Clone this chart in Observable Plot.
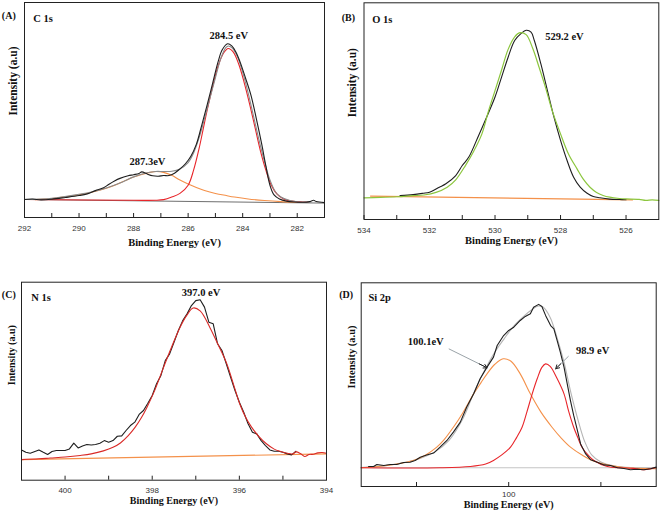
<!DOCTYPE html>
<html>
<head>
<meta charset="utf-8">
<script src="https://cdn.jsdelivr.net/npm/d3@7"></script>
<script src="https://cdn.jsdelivr.net/npm/@observablehq/plot@0.6"></script>
<style>
  body { margin: 0; background: #fff; }
  #wrap { position: relative; width: 661px; height: 513px; overflow: hidden; background: #fff; }
  #wrap svg { position: absolute; overflow: visible; }
</style>
</head>
<body>
<div id="wrap"></div>
<script>
// ---------- Panel A: C 1s ----------
const cBlack = [[292,8.4],[291.7,8.6],[291.4,8.2],[291,8.5],[290.5,9.3],[290,10.2],[289.7,11],[289.4,12.5],[289.1,13.8],[288.9,15.5],[288.7,17],[288.5,18.2],[288.2,19.4],[288,19.9],[287.8,20.5],[287.7,21.2],[287.5,20.2],[287.3,19.4],[287.1,19.2],[286.9,19.5],[286.7,19.5],[286.5,20.6],[286.3,22.6],[286.1,25],[285.9,28.5],[285.7,34],[285.5,43],[285.3,52.5],[285.1,62.5],[284.9,72.5],[284.75,78],[284.55,80.8],[284.4,79.8],[284.25,77],[284.1,72.5],[283.9,65],[283.7,57],[283.5,46],[283.3,34],[283.15,24],[283.0,15],[282.85,10.5],[282.65,8.6],[282.4,7.6],[282.1,7.2],[281.8,7.1],[281.55,7.4],[281.4,8.0],[281.3,7.4],[281.0,6.9]];
const cEnvelope = [[292,8.4],[291,8.9],[290,10.8],[289.5,12],[289,13.7],[288.5,16],[288,18.9],[287.5,20.8],[287.2,21.4],[286.9,21.4],[286.6,21.5],[286.3,22.6],[286.0,25.5],[285.8,30],[285.6,37],[285.4,46],[285.2,55.5],[285.0,65],[284.8,74],[284.62,79],[284.52,79.8],[284.4,79],[284.2,75],[284.0,67.5],[283.8,58],[283.6,47],[283.4,36],[283.2,26],[283.0,17.5],[282.8,12],[282.6,9.5],[282.3,8],[282,7.3],[281.5,7.1]];
const cRed = [[292,8.4],[288,8.0],[287.2,8.0],[286.9,8.3],[286.6,9.5],[286.3,11.2],[286.0,15],[285.8,22],[285.6,32],[285.45,41],[285.3,50],[285.1,61],[284.9,70.5],[284.7,76.5],[284.53,78.6],[284.35,77],[284.15,71.5],[283.95,63],[283.75,53],[283.55,42],[283.35,31],[283.15,22],[282.95,15],[282.75,11],[282.5,8.6],[282.2,7.6],[281.8,7.2],[281.6,7.1]];
const cOrange = [[291.6,8.3],[291,8.8],[290.5,9.6],[290,10.6],[289.5,11.9],[289,13.6],[288.6,15.5],[288.3,17.2],[288,18.8],[287.7,20],[287.4,21.0],[287.15,21.4],[286.9,21],[286.6,19.6],[286.3,17.4],[286,15.6],[285.7,14],[285.4,12.6],[285,11.2],[284.6,10.2],[284.3,9.5],[283.8,8.6],[283.2,7.9],[282.6,7.4],[282,7.1]];
const cBaseline = [[292,8.4],[281,6.7]];
const cTicks = [292,291,290,289,288,287,286,285,284,283,282];
const cTickLabels = [292,290,288,286,284,282];
const cNotes = [{e:284.51, v:84.8, label:"284.5 eV"},{e:287.49, v:25.9, label:"287.3eV"}];

// ---------- Panel B: O 1s ----------
const oBlack = [[532.9,11.1],[532.5,11.5],[532.2,12.1],[532,12.6],[531.7,14.9],[531.5,16.5],[531.2,20.3],[531,24.9],[530.8,28.8],[530.5,38.8],[530.3,45.7],[530,56.5],[529.8,65.7],[529.6,74.9],[529.4,82.6],[529.2,85.9],[529.05,87.3],[528.9,86.5],[528.8,82.6],[528.6,71.8],[528.4,59.5],[528.2,47.2],[528,36.5],[527.8,27.2],[527.6,19.5],[527.4,14.9],[527.2,12.2],[527,10.6],[526.8,10],[526.5,9.4],[526.2,9.2],[526,9.1]];
const oGreen = [[534,10],[533.5,10.2],[533,10.5],[532.5,11],[532.17,11.3],[531.8,12.5],[531.46,14.9],[531.2,18.3],[530.9,25],[530.65,31.5],[530.4,39.5],[530.2,50],[530.0,59.5],[529.8,69],[529.6,78.5],[529.4,84.3],[529.24,86.2],[529.05,85.3],[528.85,79],[528.65,70],[528.46,61],[528.25,50],[528.0,39.5],[527.75,30],[527.5,23.5],[527.3,18.5],[527.1,14.9],[526.9,12.5],[526.7,11.1],[526.5,10.3],[526.2,9.7],[526,9.5],[525.6,9.3],[525.4,8.8],[525.2,9.1],[525,8.8]];
const oBaseline = [[533.8,10.8],[525.8,9.1]];
const oTicks = [534,533,532,531,530,529,528,527,526];
const oTickLabels = [534,532,530,528,526];
const oNotes = [{e:527.88, v:84.2, label:"529.2 eV"}];

// ---------- Panel C: N 1s ----------
const nBlack = [[401,15.3],[400.9,14.1],[400.8,13.6],[400.6,15.3],[400.5,14.1],[400.4,13.0],[400.3,14.5],[400.2,15.0],[400,15.0],[399.9,15.8],[399.8,18.7],[399.7,16.3],[399.6,17.3],[399.5,18.0],[399.4,17.8],[399.3,18.0],[399.2,18.7],[399.1,20.0],[399,19.2],[398.9,20.0],[398.8,22.2],[398.7,22.4],[398.6,25.1],[398.5,27.6],[398.4,29.3],[398.3,33.2],[398.2,35.2],[398.1,38.9],[398,42.8],[397.9,48.7],[397.8,52.9],[397.7,60.4],[397.6,63.8],[397.5,69.7],[397.4,75.6],[397.3,80.6],[397.2,84.0],[397.1,88.2],[397,90.7],[396.9,91.1],[396.8,87.4],[396.7,79.8],[396.6,79.0],[396.5,68.9],[396.4,65.5],[396.3,58.8],[396.2,52.0],[396.1,45.3],[396,39.4],[395.9,34.3],[395.8,28.5],[395.7,24.2],[395.6,23.4],[395.5,20.0],[395.4,17.5],[395.3,15.3],[395.2,14.6],[395.1,14.6],[395,14.1],[394.9,13.3],[394.8,12.8],[394.7,14.6]];
const nRed = [[401,10.4],[400.6,10.8],[400.34,11.2],[400,11.7],[399.65,12.5],[399.4,13.3],[399.12,14.8],[398.9,16.6],[398.73,18.8],[398.55,22.5],[398.39,26.8],[398.25,31.5],[398.12,36.9],[397.95,45],[397.74,57],[397.55,67.5],[397.36,77.3],[397.2,83.5],[397.06,87],[396.9,85.5],[396.68,77.3],[396.5,69],[396.3,59.5],[396.1,46],[395.99,38.5],[395.85,31.5],[395.72,26.8],[395.55,22],[395.38,18.4],[395.2,15.7],[395.07,14.6],[394.9,13.6],[394.77,13.3],[394.7,14.3],[394.6,13.5],[394.5,12.0],[394.4,13.0],[394.3,13.1],[394.2,13.8],[394.1,14.0],[394,13.6]];
const nBaseline = [[401,10.4],[394,13.3]];
const nTicks = [400,399,398,397,396,395];
const nTickLabels = [400,398,396,394];
const nNotes = [{e:396.88, v:94.6, label:"397.0 eV"}];

// ---------- Panel D: Si 2p ----------
const sBlack = [[103.04,9.8],[102.93,9.8],[102.86,10.8],[102.71,10.3],[102.57,10.8],[102.43,10.8],[102.28,11.8],[102.14,11.9],[102.03,12.8],[101.92,14.4],[101.78,15.5],[101.63,16.4],[101.49,19.3],[101.34,22.6],[101.2,26.7],[101.05,31.6],[100.91,39],[100.76,45.5],[100.62,52.9],[100.47,58.6],[100.33,63.5],[100.25,69.2],[100.18,71.7],[100.11,74.1],[100,76.6],[99.89,78.2],[99.75,81.5],[99.64,83.5],[99.53,84.8],[99.46,88],[99.35,89.4],[99.28,88.4],[99.2,84],[99.09,79],[99.02,77.4],[98.95,71.7],[98.88,66],[98.8,58.6],[98.73,50.4],[98.66,42.2],[98.59,34.9],[98.51,27.5],[98.44,20.9],[98.33,16],[98.22,13.1],[98.08,11.9],[97.93,10.6],[97.79,10.3],[97.64,9.2],[97.5,8.8],[97.36,8.2],[97.21,8.5],[97.07,8.2],[96.92,8.7],[96.8,9.5]];
const sEnvelope = [[103.2,9.3],[102.6,10.5],[102.0,13.2],[101.6,17],[101.3,22.5],[101.0,33],[100.76,45.8],[100.5,58],[100.3,66],[100.1,72.5],[99.9,78.5],[99.7,83],[99.5,86.8],[99.35,88.6],[99.25,88],[99.1,83],[98.95,73],[98.8,61],[98.65,46],[98.5,33],[98.35,22],[98.2,15.5],[98.0,12],[97.7,10],[97.3,9.2],[96.8,9]];
const sOrange = [[103.2,9.2],[102.64,10.3],[102.07,12.8],[101.8,15.5],[101.56,19.3],[101.4,23],[101.2,29.1],[101.0,36],[100.76,45.5],[100.6,51],[100.47,55.3],[100.3,60],[100.12,62.7],[99.95,61.5],[99.75,55.3],[99.53,45.5],[99.3,36.5],[99.06,29.1],[98.85,23.5],[98.66,19.3],[98.4,15.3],[98.19,12.8],[97.79,10.3],[97.5,9.3],[97.2,8.9],[96.8,8.7]];
const sRed = [[103.2,9.2],[101.5,9.2],[100.83,9.8],[100.5,11],[100.33,12.8],[100.15,15.5],[99.96,19.3],[99.83,24],[99.71,29.1],[99.6,37],[99.49,45.5],[99.38,53],[99.28,58.5],[99.2,60.2],[99.1,59],[98.95,53],[98.8,45.5],[98.7,37],[98.59,29.1],[98.5,24],[98.41,19.3],[98.28,15.5],[98.15,12.8],[97.86,9.8],[97.57,9.2],[97.3,8.9],[97.1,8.2],[96.95,8.6],[96.8,9.3]];
const sBaseline = [[103.2,9.2],[96.8,9.2]];
const sTicks = [102,100,98];
const sTickLabels = [100];
const sNotes = [{e:101.8, v:71.2, label:"100.1eV"},{e:98.18, v:66.8, label:"98.9 eV"}];
const sArrows = [{x1:101.3, y1:67.6, x2:100.47, y2:58.3, inset:34},{x1:98.70, y1:64, x2:98.98, y2:57.8, inset:11}];

const xTitle = "Binding Energy (eV)";
const yTitle = "Intensity (a.u)";

// ---------- styles ----------
const SERIF = "'Liberation Serif', 'Times New Roman', serif";
const SANS = "'Liberation Sans', Arial, sans-serif";
const BLACK = "#1e1e1e", RED = "#e8252a", ORANGE = "#f4914a", GRAY = "#8a8a8a", GREEN = "#8cc63e";

const pts = a => a.map(([e, v]) => ({e, v}));

function line(arr, stroke, curve = "catmull-rom", w = 1.1) {
  return Plot.line(pts(arr), {x: "e", y: "v", stroke, strokeWidth: w, curve});
}

function panel(cfg) {
  const innerH = cfg.height - cfg.mt - cfg.mb;
  const marks = [
    ...cfg.lines,
    Plot.frame({stroke: "#222", strokeWidth: 1}),
    Plot.tickX(cfg.ticks, {x: d => d, stroke: "#222", strokeWidth: 1, insetTop: innerH - 4}),
    Plot.axisX(cfg.tickLabels, {tickSize: 0, tickPadding: cfg.tickPad, label: null, fontSize: 8, fontFamily: SANS, fill: "#333"}),
    Plot.text([xTitle], {frameAnchor: "bottom", dy: cfg.xTitleDy, text: d => d, fontFamily: SERIF, fontWeight: "bold", fontSize: cfg.xTitleSize, fill: "#111"}),
    Plot.text([yTitle], {frameAnchor: "left", rotate: -90, dx: cfg.yTitleDx, dy: cfg.yTitleDy, text: d => d, fontFamily: SERIF, fontWeight: "bold", fontSize: cfg.yTitleSize, fill: "#111"}),
    Plot.text([cfg.tag], {frameAnchor: "top-left", dx: cfg.tagDx, dy: cfg.tagDy, text: d => d, textAnchor: "middle", fontFamily: SERIF, fontWeight: "bold", fontSize: 10, fill: "#111"}),
    Plot.text([cfg.name], {frameAnchor: "top-left", dx: cfg.nameDx, dy: cfg.nameDy, text: d => d, textAnchor: "middle", fontFamily: SERIF, fontWeight: "bold", fontSize: 10.5, fill: "#111"}),
    Plot.text(cfg.notes, {x: "e", y: "v", text: "label", fontFamily: SERIF, fontWeight: "bold", fontSize: 10.5, fill: "#111"}),
    ...(cfg.extra || [])
  ];
  const svg = Plot.plot({
    width: cfg.width, height: cfg.height,
    marginLeft: cfg.ml, marginRight: cfg.mr, marginTop: cfg.mt, marginBottom: cfg.mb,
    x: {domain: cfg.domain, axis: null},
    y: {domain: [0, 100], axis: null},
    style: {background: "transparent", overflow: "visible"},
    marks
  });
  svg.style.left = cfg.left + "px";
  svg.style.top = cfg.top + "px";
  document.getElementById("wrap").appendChild(svg);
}

// Panel A
panel({
  left: 0, top: 0, width: 330, height: 250, ml: 24, mr: 6, mt: 2, mb: 33,
  domain: [292, 281], ticks: cTicks, tickLabels: cTickLabels, tickPad: 8,
  xTitleDy: 28, xTitleSize: 10.5, yTitleDx: -10.7, yTitleDy: 5.5, yTitleSize: 11.5,
  tag: "(A)", tagDx: -15.7, tagDy: 9.7, name: "C 1s", nameDx: 18.5, nameDy: 12,
  notes: cNotes,
  lines: [
    line(cBaseline, "#6e6e6e", "linear", 1),
    line(cOrange, ORANGE),
    line(cRed, RED),
    line(cEnvelope, GRAY),
    line(cBlack, BLACK)
  ]
});

// Panel B
panel({
  left: 330, top: 0, width: 331, height: 250, ml: 33.5, mr: 2.7, mt: 2.3, mb: 31,
  domain: [534, 525], ticks: oTicks, tickLabels: oTickLabels, tickPad: 7.4,
  xTitleDy: 24.3, xTitleSize: 10.5, yTitleDx: -11.2, yTitleDy: 6, yTitleSize: 11.5,
  tag: "(B)", tagDx: -15.7, tagDy: 11, name: "O 1s", nameDx: 18.2, nameDy: 12.7,
  notes: oNotes,
  lines: [
    line(oBaseline, ORANGE, "linear", 1.2),
    line(oBlack, BLACK),
    line(oGreen, GREEN, "catmull-rom", 1.2)
  ]
});

// Panel C
panel({
  left: 0, top: 260, width: 330, height: 253, ml: 21, mr: 4, mt: 21.7, mb: 33.3,
  domain: [401, 394], ticks: nTicks, tickLabels: nTickLabels, tickPad: 6.7,
  xTitleDy: 23.6, xTitleSize: 10, yTitleDx: -9.3, yTitleDy: 4, yTitleSize: 10,
  tag: "(C)", tagDx: -12.7, tagDy: 9, name: "N 1s", nameDx: 19.5, nameDy: 11,
  notes: nNotes,
  lines: [
    line(nBaseline, ORANGE, "linear", 1.2),
    line(nBlack, BLACK, "linear"),
    line(nRed, "#d92a27")
  ]
});

// Panel D
panel({
  left: 330, top: 260, width: 331, height: 253, ml: 30.7, mr: 5.3, mt: 22.3, mb: 27,
  domain: [103.2, 96.8], ticks: sTicks, tickLabels: sTickLabels, tickPad: 5.1,
  xTitleDy: 21, xTitleSize: 10.2, yTitleDx: -9.7, yTitleDy: 3.8, yTitleSize: 10.5,
  tag: "(D)", tagDx: -15, tagDy: 7.7, name: "Si 2p", nameDx: 18.5, nameDy: 11,
  notes: sNotes,
  lines: [
    line(sBaseline, "#c4c4c4", "linear", 1),
    line(sEnvelope, "#b5b5b5"),
    line(sOrange, ORANGE),
    line(sRed, RED),
    line(sBlack, BLACK, "linear")
  ],
  extra: [
    Plot.link(sArrows, {x1: "x1", y1: "y1", x2: "x2", y2: "y2", stroke: "#9aa3a8", strokeWidth: 1}),
    Plot.arrow([sArrows[0]], {x1: "x1", y1: "y1", x2: "x2", y2: "y2", stroke: "#222", strokeWidth: 1, headLength: 6, insetStart: sArrows[0].inset}),
    Plot.arrow([sArrows[1]], {x1: "x1", y1: "y1", x2: "x2", y2: "y2", stroke: "#222", strokeWidth: 1, headLength: 6, insetStart: sArrows[1].inset})
  ]
});
</script>
</body>
</html>
